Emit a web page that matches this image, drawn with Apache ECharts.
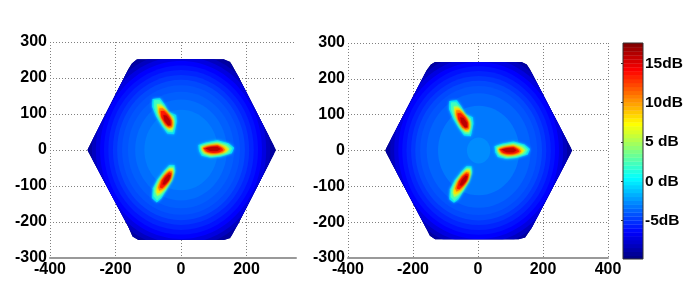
<!DOCTYPE html>
<html><head><meta charset="utf-8">
<style>html,body{margin:0;padding:0;background:#fff}#c{width:689px;height:288px}</style>
<script src="https://cdn.jsdelivr.net/npm/echarts@6/dist/echarts.min.js"></script>
</head><body><div id="c"></div>
<script>
const yTicks = [-300,-200,-100,0,100,200,300];
const barTicks = [-5,0,5,10,15];
const barTickLabels = ['-5dB','0 dB','5 dB','10dB','15dB'];
const jetColors = ['#000080','#0000ff','#0080ff','#00ffff','#80ff80','#ffff00','#ff8000','#ff0000','#800000'];
const barLevels = [-9.85,-9.75,-9.25,-8.75,-8.25,-7.75,-7.25,-6.75,-6.25,-5.75,-5.25,-4.75,-4.25,-3.75,-3.25,-2.75,-2.25,-1.75,-1.25,-0.75,-0.25,0.25,0.75,1.25,1.75,2.25,2.75,3.25,3.75,4.25,4.75,5.25,5.75,6.25,6.75,7.25,7.75,8.25,8.75,9.25,9.75,10.25,10.75,11.25,11.75,12.25,12.75,13.25,13.75,14.25,14.75,15.25,15.75,16.25,16.75,17.25,17.55];

const hexLeft = [[-286,0],[-161,224],[-150,240],[-135,252],[130,252],[150,245],[175,204],[290,0],[175,-204],[150,-245],[130,-250],[-130,-250],[-148,-240],[-161,-213]];
const hexRight = [[-286,0],[-158,224],[-145,240],[-132,247],[134,247],[150,240],[160,226],[290,0],[165,-216],[145,-243],[125,-248],[-132,-248],[-148,-238],[-158,-220]];

// [dB, centre x, centre y, radius]
const ringsLeft = [[-9.7,0,0,300],[-9.0,0,0,285],[-8.2,0,0,272],[-7.3,0,0,260],[-6.5,0,0,247],[-6.0,0,0,235],[-5.5,0,0,222],[-5.0,0,0,208],[-4.5,0,0,195],[-4.2,0,0,180],[-3.9,0,0,162],[-3.5,0,0,140],[-3.1,0,0,112]];
const ringsRight = [[-9.7,2,0,300],[-9.0,2,0,285],[-8.2,2,0,272],[-7.3,2,0,260],[-6.5,2,0,247],[-6.0,2,0,235],[-5.5,2,0,222],[-5.0,2,0,208],[-4.5,2,0,195],[-4.2,2,0,180],[-3.8,2,0,160],[-3.2,2,0,125],[-2.7,2,0,36]];

const upperLeft = [
 [-0.5,[[-87,142],[-64,144],[-49,125],[-39,106],[-15,97],[-13,79],[-21,44],[-42,46],[-59,68],[-76,93],[-88,120]]],
 [2,[[-82,138],[-66,139],[-52,122],[-42,105],[-21,94],[-19,79],[-25,49],[-40,51],[-56,68],[-72,95],[-82,118]]],
 [5,[[-74,127],[-62,127],[-48,114],[-36,99],[-23,86],[-23,68],[-27,55],[-38,56],[-54,75],[-68,99]]],
 [8,[[-70,121],[-58,121],[-46,110],[-34,95],[-25,82],[-25,65],[-32,58],[-42,62],[-56,81],[-68,103]]],
 [10.5,[[-66,116],[-56,116],[-44,106],[-32,92],[-27,77],[-27,64],[-36,62],[-48,69],[-60,88],[-66,105]]],
 [13.5,[[-62,108],[-52,108],[-40,97],[-30,82],[-30,68],[-38,66],[-50,77],[-60,92]]],
 [16,[[-54,97],[-44,95],[-34,82],[-32,69],[-40,69],[-50,82]]]
];
const lowerLeft = [
 [-0.5,[[-36,-42],[-20,-42],[-18,-58],[-27,-83],[-45,-111],[-60,-134],[-74,-146],[-88,-134],[-86,-106],[-72,-82],[-52,-58]]],
 [2,[[-34,-46],[-22,-46],[-21,-60],[-30,-84],[-47,-111],[-62,-130],[-73,-140],[-84,-128],[-82,-106],[-69,-82],[-50,-60]]],
 [5,[[-34,-50],[-24,-51],[-24,-66],[-30,-84],[-50,-110],[-62,-122],[-73,-128],[-78,-116],[-72,-98],[-62,-82],[-44,-60]]],
 [8,[[-35,-54],[-26,-55],[-27,-68],[-33,-84],[-52,-108],[-64,-118],[-72,-120],[-74,-108],[-66,-90],[-54,-74],[-42,-60]]],
 [10.5,[[-36,-58],[-27,-60],[-30,-74],[-38,-88],[-54,-106],[-66,-113],[-70,-104],[-62,-86],[-50,-70]]],
 [13.5,[[-36,-62],[-29,-65],[-33,-80],[-44,-94],[-58,-106],[-65,-104],[-58,-84],[-46,-70]]],
 [16,[[-38,-68],[-32,-70],[-38,-84],[-50,-96],[-57,-96],[-50,-80]]]
];
const rightLeft = [
 [-0.5,[[53,14],[76,21],[111,27],[145,19],[162,6],[155,-9],[119,-19],[89,-21],[63,-16],[55,-3]]],
 [2,[[58,12],[78,18],[111,23],[142,16],[156,5],[148,-8],[119,-16],[89,-19],[66,-12],[60,0]]],
 [5,[[62,9],[80,14],[111,19],[137,12],[148,3],[139,-6],[117,-12],[91,-15],[70,-9],[64,0]]],
 [8,[[64,7],[83,12],[111,16],[133,8],[142,1],[133,-6],[113,-10],[93,-12],[74,-6],[66,0]]],
 [10.5,[[66,6],[87,11],[111,14],[129,6],[135,0],[127,-6],[107,-10],[89,-9],[74,-5]]],
 [13.5,[[68,5],[89,9],[111,12],[125,5],[129,-1],[117,-6],[99,-8],[80,-5]]],
 [16,[[74,5],[94,8],[111,8],[121,3],[111,-3],[89,-3]]]
];
const upperRight = [
 [-0.5,[[-88,138],[-65,140],[-50,121],[-40,102],[-16,93],[-14,75],[-22,40],[-43,42],[-60,64],[-77,89],[-89,116]]],
 [2,[[-83,134],[-67,135],[-53,118],[-43,101],[-22,90],[-20,75],[-26,45],[-41,47],[-57,64],[-73,91],[-83,114]]],
 [5,[[-75,123],[-63,123],[-49,110],[-37,95],[-24,82],[-24,64],[-28,51],[-39,52],[-55,71],[-69,95]]],
 [8,[[-71,117],[-59,117],[-47,106],[-35,91],[-26,78],[-26,61],[-33,54],[-43,58],[-57,77],[-69,99]]],
 [10.5,[[-67,112],[-57,112],[-45,102],[-33,88],[-28,73],[-28,60],[-37,58],[-49,65],[-61,84],[-67,101]]],
 [13.5,[[-63,104],[-53,104],[-41,93],[-31,78],[-31,64],[-39,62],[-51,73],[-61,88]]],
 [16,[[-55,93],[-45,91],[-35,78],[-33,65],[-41,65],[-51,78]]]
];
const lowerRight = [
 [-0.5,[[-36,-44],[-20,-44],[-18,-60],[-27,-85],[-45,-113],[-60,-136],[-74,-146],[-88,-136],[-86,-108],[-72,-84],[-52,-60]]],
 [2,[[-34,-48],[-22,-48],[-21,-62],[-30,-86],[-47,-113],[-62,-132],[-73,-141],[-84,-130],[-82,-108],[-69,-84],[-50,-62]]],
 [5,[[-34,-52],[-24,-53],[-24,-68],[-30,-86],[-50,-112],[-62,-124],[-73,-130],[-78,-118],[-72,-100],[-62,-84],[-44,-62]]],
 [8,[[-35,-56],[-26,-57],[-27,-70],[-33,-86],[-52,-110],[-64,-120],[-72,-122],[-74,-110],[-66,-92],[-54,-76],[-42,-62]]],
 [10.5,[[-36,-60],[-27,-62],[-30,-76],[-38,-90],[-54,-108],[-66,-115],[-70,-106],[-62,-88],[-50,-72]]],
 [13.5,[[-36,-64],[-29,-67],[-33,-82],[-44,-96],[-58,-108],[-65,-106],[-58,-86],[-46,-72]]],
 [16,[[-38,-70],[-32,-72],[-38,-86],[-50,-98],[-57,-98],[-50,-82]]]
];
const rightRight = [
 [-0.5,[[51,12],[74,19],[109,25],[143,17],[160,4],[153,-11],[117,-21],[87,-23],[61,-18],[53,-5]]],
 [2,[[56,10],[76,16],[109,21],[140,14],[154,3],[146,-10],[117,-18],[87,-21],[64,-14],[58,-2]]],
 [5,[[60,7],[78,12],[109,17],[135,10],[146,1],[137,-8],[115,-14],[89,-17],[68,-11],[62,-2]]],
 [8,[[62,5],[81,10],[109,14],[131,6],[140,-1],[131,-8],[111,-12],[91,-14],[72,-8],[64,-2]]],
 [10.5,[[64,4],[85,9],[109,12],[127,4],[133,-2],[125,-8],[105,-12],[87,-11],[72,-7]]],
 [13.5,[[66,3],[87,7],[109,10],[123,3],[127,-3],[115,-8],[97,-10],[78,-7]]],
 [16,[[72,3],[92,6],[109,6],[119,1],[109,-5],[87,-5]]]
];

const barMin = -9.9, barMax = 17.6;
const font = {fontFamily:'"Liberation Sans",Arial,sans-serif',fontWeight:'bold',fontSize:16,color:'#000'};

function ringSeries(rings, hex, idx){
  return {type:'custom',xAxisIndex:idx,yAxisIndex:idx,clip:false,data:rings,silent:true,
    renderItem(p,api){
      const c=api.coord([api.value(1),api.value(2)]);
      const s=api.size([api.value(3),api.value(3)]);
      return {type:'ellipse',shape:{cx:c[0],cy:c[1],rx:s[0],ry:s[1]},
        style:{fill:api.visual('color')},
        clipPath:{type:'polygon',shape:{points:hex.map(q=>api.coord(q))}}};
    }};
}
function blobSeries(levels, idx){
  return {type:'custom',xAxisIndex:idx,yAxisIndex:idx,clip:false,silent:true,
    data:levels.map((l,i)=>[l[0],i]),
    renderItem(p,api){
      const pts=levels[p.dataIndex][1].map(q=>api.coord(q));
      const c=api.visual('color');
      return {type:'polygon',shape:{points:pts},style:{fill:c,shadowColor:c,shadowBlur:3}};
    }};
}
const barSeries = {type:'custom',xAxisIndex:2,yAxisIndex:2,silent:true,clip:true,
  data:barLevels.map(v=>[v,0]),
  renderItem(p,api){
    const v=api.value(0);
    const a=api.coord([0,v+0.27]),b=api.coord([1,v-0.27]);
    return {type:'rect',shape:{x:a[0],y:a[1],width:b[0]-a[0],height:b[1]-a[1]},style:{fill:api.visual('color')}};
  }};
const frameSeries = {type:'custom',xAxisIndex:2,yAxisIndex:2,silent:true,clip:false,z:5,
  data:[[barMin,barMax]],
  renderItem(p,api){
    const a=api.coord([0,barMax]),b=api.coord([1,barMin]);
    return {type:'rect',shape:{x:a[0],y:a[1],width:b[0]-a[0],height:b[1]-a[1]},style:{fill:'none',stroke:'#333',lineWidth:1}};
  }};

function xAxis(idx,max){
  return {gridIndex:idx,type:'value',min:-400,max:max,interval:200,position:'bottom',
    axisLine:{show:true,onZero:false,lineStyle:{color:'#999',width:2}},axisTick:{show:false},
    axisLabel:Object.assign({margin:4,showMaxLabel:max===400,hideOverlap:false},font),
    splitLine:{show:true,showMaxLine:max===400,lineStyle:{type:[1,2],color:'#808080',width:1}}};
}
function yAxis(idx){
  return {gridIndex:idx,type:'value',min:-300,max:300,interval:100,
    axisLine:{show:false},axisTick:{show:false},
    axisLabel:Object.assign({margin:3,customValues:yTicks},font),
    splitLine:{show:true,lineStyle:{type:[1,2],color:'#808080',width:1}}};
}
const series=[ringSeries(ringsLeft,hexLeft,0),blobSeries(upperLeft,0),blobSeries(lowerLeft,0),blobSeries(rightLeft,0),
  ringSeries(ringsRight,hexRight,1),blobSeries(upperRight,1),blobSeries(lowerRight,1),blobSeries(rightRight,1),barSeries,frameSeries];

const chart=echarts.init(document.getElementById('c'),null,{renderer:'canvas'});
chart.setOption({
  animation:false,backgroundColor:'#fff',
  grid:[{left:50,top:42,width:246,height:216},{left:348,top:43,width:260,height:215},{left:623,top:43,width:20,height:216}],
  xAxis:[xAxis(0,351),xAxis(1,400),{gridIndex:2,type:'value',min:0,max:1,show:false}],
  yAxis:[yAxis(0),yAxis(1),{gridIndex:2,type:'value',min:barMin,max:barMax,position:'right',
    axisLine:{show:false},splitLine:{show:false},
    axisTick:{show:true,inside:true,length:2,lineStyle:{color:'#333'},customValues:barTicks},
    axisLabel:Object.assign({},font,{fontSize:15.5,margin:2,customValues:barTicks,formatter:v=>barTickLabels[barTicks.indexOf(v)]})}],
  visualMap:{show:false,type:'continuous',min:barMin,max:barMax,dimension:0,seriesIndex:[0,1,2,3,4,5,6,7,8],inRange:{color:jetColors}},
  series
});
</script></body></html>
